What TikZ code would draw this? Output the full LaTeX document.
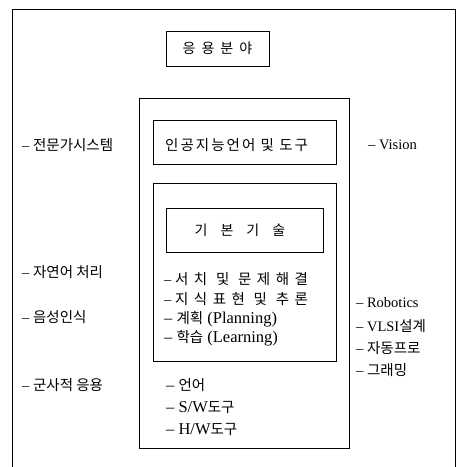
\documentclass[tikz,border=0pt]{standalone}
\usepackage{fontspec}
\setmainfont{Liberation Serif}
\newfontfamily\kr{Noto Sans CJK KR}
\newfontfamily\krw[LetterSpace=38]{Noto Sans CJK KR}
\begin{document}
\begin{tikzpicture}[x=1pt,y=-1pt,
  frame/.style={draw=black,line width=1pt},
  item/.style={anchor=west,inner sep=0pt,font=\fontsize{14.5}{16}\selectfont},
  bigitem/.style={anchor=west,inner sep=0pt,font=\fontsize{16.5}{18}\selectfont},
  title/.style={anchor=center,inner sep=0pt,font=\fontsize{14}{16}\selectfont}]
\useasboundingbox (0,0) rectangle (457,467);
% outer open frame
\draw[frame] (12,467) -- (12,9) -- (455,9) -- (455,467);
% title box
\draw[frame] (166,31) rectangle (269,66);
\node[title] (t1) at (217.5,48.5) {\kr 응\hspace{6pt}용\hspace{6pt}분\hspace{6pt}야};
% middle box
\draw[frame] (139,98) rectangle (349,448);
% AI language box
\draw[frame] (153,120) rectangle (336,164);
\node[item] (lang) at (165,145) {\kr\addfontfeature{LetterSpace=14}인공지능언어 및 도구};
% basic tech box
\draw[frame] (153,183) rectangle (336,361);
\draw[frame] (166,208) rectangle (323,252);
\node[title] (t2) at (240,230) {\kr 기\hspace{13pt}본\hspace{13pt}기\hspace{13pt}술};
\node[item] (b1) at (164,279) {– {\krw 서치 및 문제해결}};
\node[item] (b2) at (164,299) {– {\krw 지식표현 및 추론}};
\node[bigitem] (b3) at (164,319) {– {\fontsize{14.5}{16}\selectfont\kr 계획} (Planning)};
\node[bigitem] (b4) at (164,338) {– {\fontsize{14.5}{16}\selectfont\kr 학습} (Learning)};
% bottom items
\node[bigitem] (c1) at (166,385) {– {\fontsize{14.5}{16}\selectfont\kr 언어}};
\node[bigitem] (c2) at (166,407) {– S/W{\fontsize{14.5}{16}\selectfont\kr 도구}};
\node[bigitem] (c3) at (166,429) {– H/W{\fontsize{14.5}{16}\selectfont\kr 도구}};
% left column
\node[item] (l1) at (22,145) {– {\kr 전문가시스템}};
\node[item] (l2) at (22,272) {– {\kr 자연어 처리}};
\node[item] (l3) at (22,317) {– {\kr 음성인식}};
\node[item] (l4) at (22,385) {– {\kr 군사적 응용}};
% right column
\node[item] (r1) at (368,145) {– Vision};
\node[item] (r2) at (356,303) {– Robotics};
\node[item] (r3) at (356,326) {– VLSI{\kr 설계}};
\node[item] (r4) at (356,348) {– {\kr 자동프로}};
\node[item] (r5) at (356,370) {– {\kr 그래밍}};
\end{tikzpicture}
\end{document}
